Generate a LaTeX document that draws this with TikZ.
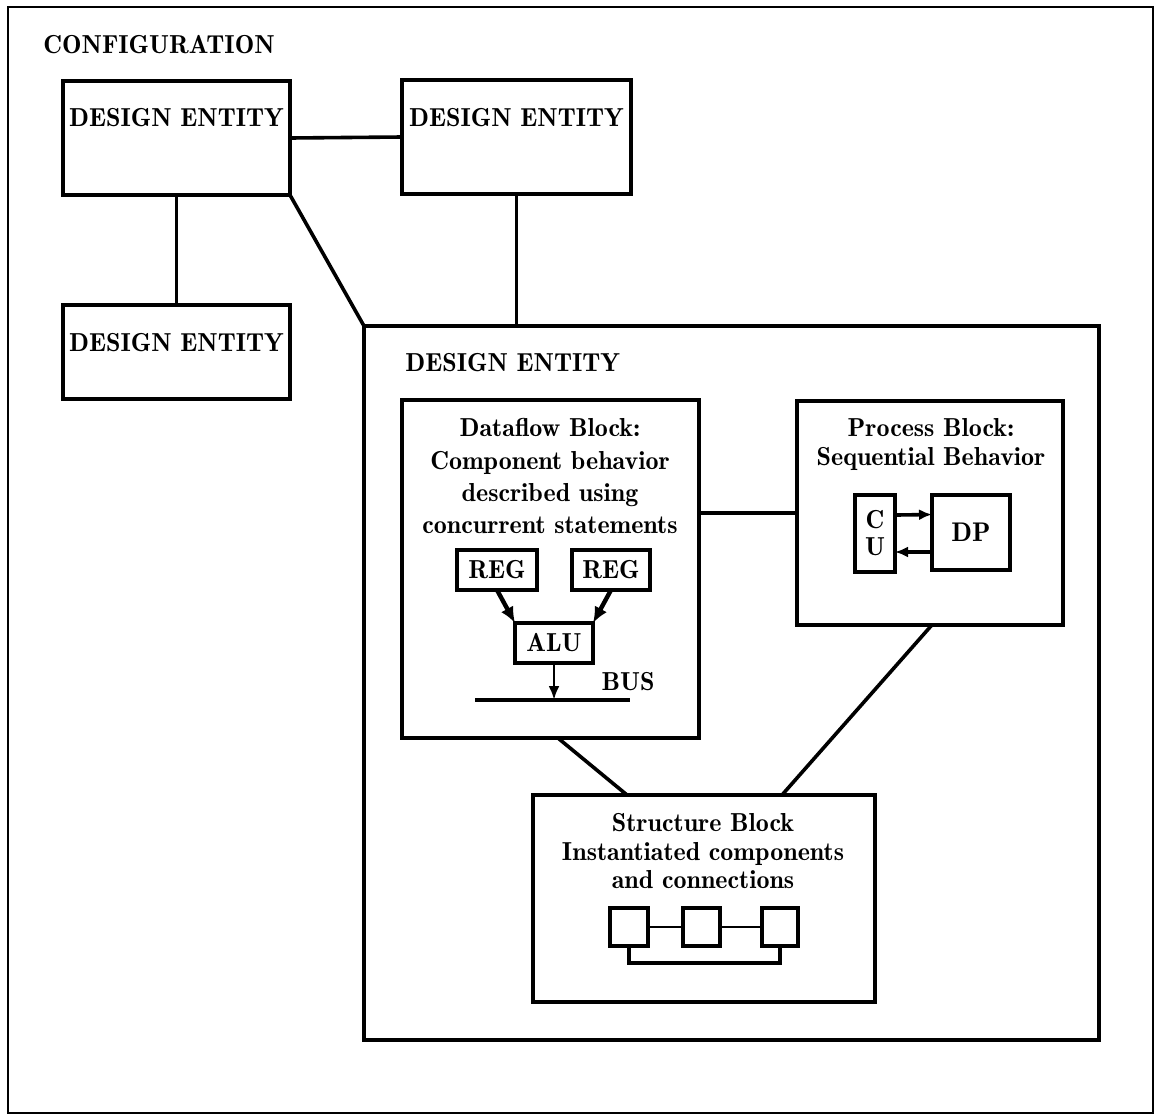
\documentclass[tikz,border=0pt]{standalone}
\usetikzlibrary{arrows.meta,calc}
\begin{document}
\begin{tikzpicture}[x=0.5pt,y=-0.5pt,
  box/.style={draw,line width=1.9pt,inner sep=0pt,outer sep=0pt,anchor=north west},
  conn/.style={line width=1.8pt},
  thinconn/.style={line width=1.3pt},
  txt/.style={inner sep=0pt,font=\fontsize{13}{16}\fontseries{b}\selectfont,align=center},
  arr/.style={-{Latex[length=8pt,width=7pt]},line width=2.2pt},
  arrsmall/.style={-{Latex[length=6.5pt,width=5.5pt]},line width=1.8pt},
]
\useasboundingbox (0,0) rectangle (1154,1114);
% outer configuration frame
\node[draw,line width=1pt,inner sep=0pt,anchor=north west,minimum width=572.5pt,minimum height=553pt] (frame) at (7,6) {};
\node[txt,anchor=west] (conf) at (43,45) {CONFIGURATION};

% top-level design entities
\node[box,minimum width=113.5pt,minimum height=57pt] (de1) at (63,81) {};
\node[txt] (de1t) at (176.5,118) {DESIGN ENTITY};
\node[box,minimum width=114.5pt,minimum height=57pt] (de2) at (402,80) {};
\node[txt] (de2t) at (516.5,118) {DESIGN ENTITY};
\node[box,minimum width=113.5pt,minimum height=47pt] (de3) at (63,305) {};
\node[txt] (de3t) at (176.5,343) {DESIGN ENTITY};
\node[box,minimum width=367.5pt,minimum height=357pt] (big) at (364,326) {};
\node[txt,anchor=west] (bigt) at (405,363) {DESIGN ENTITY};

\draw[conn] (de1.east) -- (de2.west);
\draw[thinconn] (de1.south) -- (de3.north);
\draw[conn] (de2.south) -- (de2.south |- big.north);
\draw[conn] (de1.south east) -- (big.north west);

% dataflow block
\node[box,minimum width=148.5pt,minimum height=169pt] (df) at (402,400) {};
\node[txt,anchor=north,font=\fontsize{13}{16.2}\fontseries{b}\selectfont] (dft) at (550,418) {Dataflow Block:\\Component behavior\\described using\\concurrent statements};
\node[box,minimum width=40pt,minimum height=20pt,font=\fontsize{13}{16}\fontseries{b}\selectfont] (reg1) at (457,550) {REG};
\node[box,minimum width=39pt,minimum height=20pt,font=\fontsize{13}{16}\fontseries{b}\selectfont] (reg2) at (572,550) {REG};
\node[box,minimum width=39pt,minimum height=20pt,font=\fontsize{13}{16}\fontseries{b}\selectfont] (alu) at (515,623) {ALU};
\coordinate (busl) at (475,700);
\coordinate (busr) at (630,700);
\draw[conn] (busl) -- (busr);
\node[txt] (bust) at (628,682) {BUS};
\draw[arr] (reg1.south) -- (alu.north west);
\draw[arr] (reg2.south) -- (alu.north east);
\draw[-{Latex[length=7pt,width=5.5pt]},line width=1.4pt] (alu.south) -- (alu.south |- busl);

% process block
\node[box,minimum width=133pt,minimum height=112pt] (pb) at (797,401) {};
\node[txt,anchor=north,font=\fontsize{13}{14.5}\fontseries{b}\selectfont] (pbt) at (931,418) {Process Block:\\Sequential Behavior};
\node[box,minimum width=20pt,minimum height=38.5pt,font=\fontsize{13}{13.5}\fontseries{b}\selectfont,align=center] (cu) at (855,495) {C\\U};
\node[box,minimum width=39pt,minimum height=37.5pt,font=\fontsize{13.5}{16}\fontseries{b}\selectfont] (dp) at (932,495) {DP};
\draw[arrsmall] ($(cu.north east)!0.26!(cu.south east)$) -- ($(dp.north west)!0.26!(dp.south west)$);
\draw[arrsmall] ($(dp.north west)!0.76!(dp.south west)$) -- ($(cu.north east)!0.74!(cu.south east)$);

\draw[conn] (pb.west) -- (pb.west -| df.east);

% structure block
\node[box,minimum width=171pt,minimum height=103.5pt] (sb) at (533,795) {};
\node[txt,anchor=north,font=\fontsize{13}{14.3}\fontseries{b}\selectfont] (sbt) at (703,813) {Structure Block\\Instantiated components\\and connections};
\node[box,minimum width=19pt,minimum height=19pt] (s1) at (610,908) {};
\node[box,minimum width=18.5pt,minimum height=19pt] (s2) at (683,908) {};
\node[box,minimum width=18pt,minimum height=19pt] (s3) at (762,908) {};
\draw[thinconn] (s1.east) -- (s2.west);
\draw[thinconn] (s2.east) -- (s3.west);
\draw[conn] (s1.south) -- ++(0,17) -| (s3.south);

\draw[conn] ($(df.south west)!0.525!(df.south east)$) -- ($(sb.north west)!0.275!(sb.north east)$);
\draw[conn] ($(pb.south west)!0.507!(pb.south east)$) -- ($(sb.north west)!0.728!(sb.north east)$);
\end{tikzpicture}
\end{document}
